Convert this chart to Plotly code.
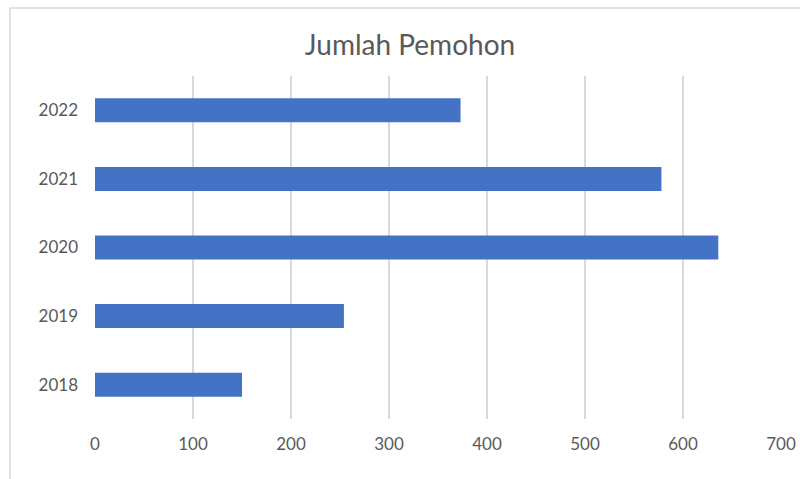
import plotly.graph_objects as go

years = ["2018", "2019", "2020", "2021", "2022"]
values = [150, 254, 636, 578, 373]
x_ticks = [0, 100, 200, 300, 400, 500, 600, 700]

W, H = 800, 479
L, R, T, B = 95, 19, 76, 60

fig = go.Figure(go.Bar(
    y=years, x=values, orientation="h",
    marker=dict(color="#4472C4", line=dict(width=0)),
))

fig.update_layout(
    width=W, height=H,
    margin=dict(l=L, r=R, t=T, b=B, autoexpand=False),
    paper_bgcolor="white", plot_bgcolor="white",
    bargap=0.65,
    showlegend=False,
    title=dict(text="Jumlah Pemohon", x=410 / W, xanchor="center",
               y=1 - 45 / H, yanchor="middle",
               font=dict(family="Lato", size=28, color="#595959")),
    font=dict(family="Lato", size=17, color="#595959"),
    xaxis=dict(range=[0, 700], tickvals=x_ticks, showgrid=True,
               gridcolor="#D9D9D9", gridwidth=1.5, zeroline=False,
               showline=False, ticks="", ticklabelstandoff=13,
               automargin=False,
               tickfont=dict(size=17, color="#595959")),
    yaxis=dict(type="category", categoryorder="array", categoryarray=years,
               showgrid=False, zeroline=False, showline=False, ticks="",
               ticklabelstandoff=16, automargin=False,
               tickfont=dict(size=17, color="#595959")),
    shapes=[dict(type="rect", xref="paper", yref="paper",
                 x0=-(L - 10) / (W - L - R), x1=1 + (R + 20) / (W - L - R),
                 y0=-(B + 20) / (H - T - B), y1=1 + (T - 8) / (H - T - B),
                 line=dict(color="#D9D9D9", width=1.5), layer="below")],
)

fig.write_html("out.html")
